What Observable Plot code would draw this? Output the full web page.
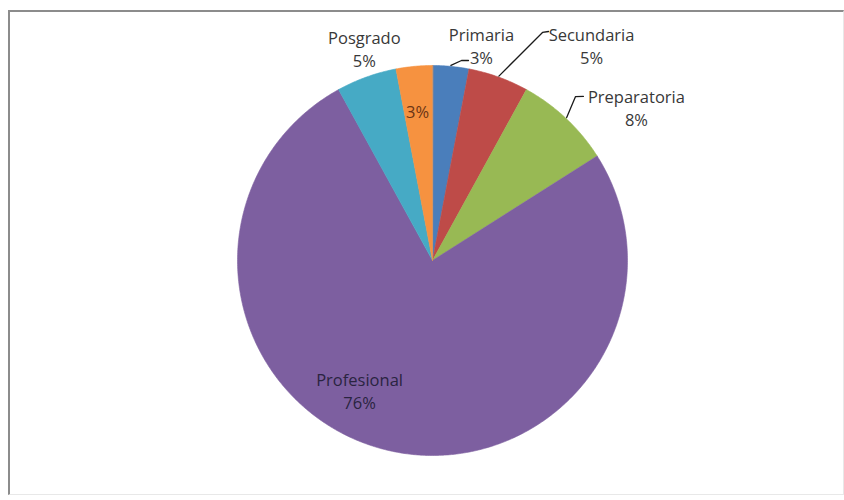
<!DOCTYPE html>
<html>
<head>
<meta charset="utf-8">
<script src="https://cdn.jsdelivr.net/npm/d3@7"></script>
<script src="https://cdn.jsdelivr.net/npm/@observablehq/plot@0.6"></script>
<style>
  html, body { margin: 0; padding: 0; background: #fff; }
  #wrap { position: relative; width: 844px; height: 500px; }
  #wrap svg { display: block; }
  #border { position: absolute; left: 8px; top: 10px; width: 833px; height: 482px;
            border-top: 2px solid #8c8c8c; border-left: 2px solid #8c8c8c;
            border-right: 1px solid #e8e8e8; border-bottom: 1px solid #e8e8e8; pointer-events: none; }
</style>
</head>
<body>
<div id="wrap"><div id="border"></div></div>
<script>
// ---- data ----
const categories = ["Primaria", "Secundaria", "Preparatoria", "Profesional", "Posgrado", ""];
const values = [3, 5, 8, 76, 5, 3];
const colors = ["#4a7ebb", "#be4b48", "#98b954", "#7d5fa0", "#46aac5", "#f69240"];

// ---- layout (label placement in polar form: radius px, angle deg clockwise from top) ----
const R = 195;
const labelPolar = [[221, 12.8], [268, 36.4], [255, 53.1], [149, 209.3], [223, -17.8], [151, -5.7]];
const labelInside = [false, false, false, true, false, true];
// leader lines: [elbow, end] in polar (r, deg); null = no leader
const leaderPolar = [
  [[202.1, 8.25], [203.2, 10.2]],
  [[253.2, 25.75], [256.7, 26.87]],
  [[217.6, 41.1], [222.9, 42.6]],
  null, null, null
];

const total = d3.sum(values);
const rad = a => a * Math.PI / 180;
const pol = (r, deg) => ({x: r * Math.sin(rad(deg)), y: r * Math.cos(rad(deg))});

// slices
const slicePts = [];
let acc = 0;
const mids = [];
categories.forEach((c, i) => {
  const a0 = acc / total * 360, a1 = (acc + values[i]) / total * 360;
  acc += values[i];
  mids.push((a0 + a1) / 2);
  slicePts.push({key: i, x: 0, y: 0});
  const n = Math.max(4, Math.ceil((a1 - a0) / 0.5));
  for (let k = 0; k <= n; k++) {
    const p = pol(R, a0 + (a1 - a0) * k / n);
    slicePts.push({key: i, x: p.x, y: p.y});
  }
});

const labels = categories.map((c, i) => {
  const p = pol(labelPolar[i][0], labelPolar[i][1]);
  const pct = Math.round(values[i] / total * 100) + "%";
  return {x: p.x, y: p.y, text: c ? c + "\n" + pct : pct, inside: labelInside[i], key: i};
});

const leaders = [];
leaderPolar.forEach((lp, i) => {
  if (!lp) return;
  const s = pol(R + 1, mids[i]);
  leaders.push({key: i, x: s.x, y: s.y});
  lp.forEach(([r, a]) => { const p = pol(r, a); leaders.push({key: i, x: p.x, y: p.y}); });
});

const chart = Plot.plot({
  width: 844,
  height: 500,
  margin: 0,
  x: {domain: [-432, 412], axis: null},
  y: {domain: [-240, 260], axis: null},
  color: {domain: d3.range(categories.length), range: colors},
  style: {fontFamily: "'Open Sans', sans-serif", background: "transparent"},
  marks: [
    Plot.line(slicePts, {x: "x", y: "y", z: "key", fill: "key", stroke: "key", strokeWidth: 0.6, curve: "linear-closed"}),
    Plot.line(leaders, {x: "x", y: "y", z: "key", stroke: "#1a1a1a", strokeWidth: 1.3}),
    Plot.text(labels, {x: "x", y: "y", text: "text", fontSize: 16.5, lineHeight: 1.4,
      fill: d => d.inside ? (d.key === 5 ? "#6b3515" : "#2a2440") : "#383838"})
  ]
});
document.getElementById("wrap").appendChild(chart);
</script>
</body>
</html>
